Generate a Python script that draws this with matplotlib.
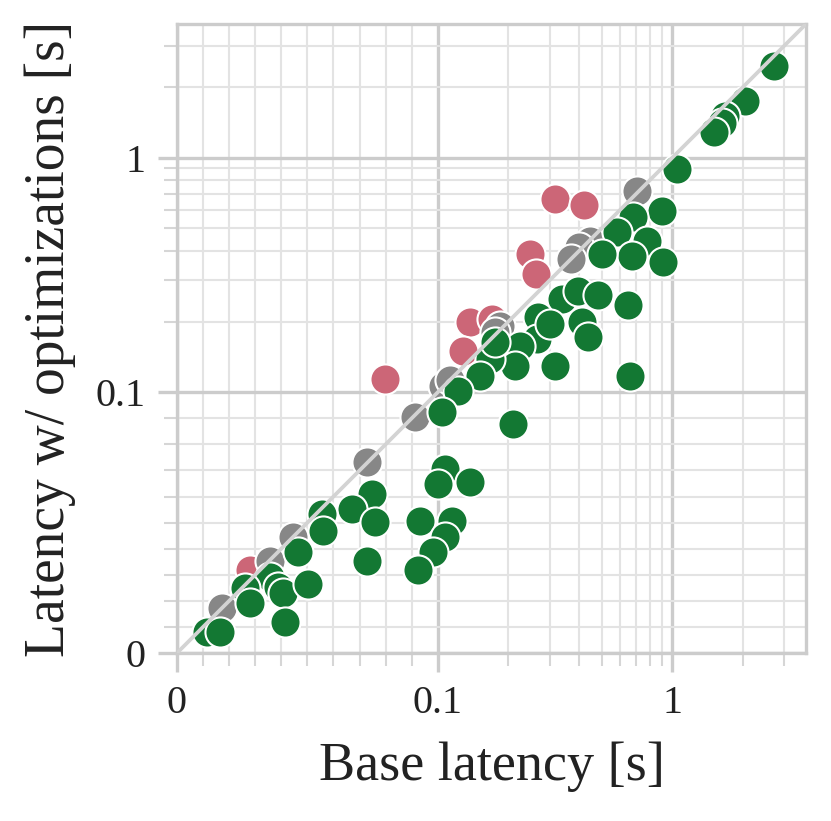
import numpy as np
import matplotlib
matplotlib.use("Agg")
import matplotlib.pyplot as plt
from matplotlib.ticker import FixedLocator, FixedFormatter

plt.rcParams['font.family'] = ['Liberation Serif', 'DejaVu Serif']

# ---- data (seconds) ----
green_base = [2.70, 2.03, 1.67, 1.62, 1.51, 1.05, 0.90, 0.68, 0.58, 0.78, 0.67, 0.91, 0.50,
              0.34, 0.395, 0.48, 0.645, 0.41, 0.436, 0.267, 0.265, 0.224, 0.316, 0.213,
              0.167, 0.151, 0.175, 0.66, 0.30, 0.122, 0.104, 0.209, 0.107, 0.100, 0.137,
              0.0748, 0.0672, 0.0760, 0.0932, 0.115, 0.107, 0.0982, 0.0925, 0.0729,
              0.0465, 0.0557, 0.0561, 0.0357, 0.0388, 0.0407, 0.0503, 0.0262, 0.0281,
              0.0415, 0.0116, 0.0166]
green_opt = [2.45, 1.74, 1.50, 1.41, 1.29, 0.89, 0.59, 0.56, 0.48, 0.44, 0.38, 0.36, 0.39,
             0.25, 0.27, 0.26, 0.235, 0.20, 0.172, 0.209, 0.169, 0.157, 0.129, 0.129,
             0.139, 0.117, 0.164, 0.117, 0.195, 0.101, 0.0924, 0.0878, 0.0705, 0.0647, 0.0655,
             0.0609, 0.0551, 0.0501, 0.0505, 0.0505, 0.0443, 0.0386, 0.0320, 0.0351,
             0.0386, 0.0532, 0.0467, 0.0290, 0.0255, 0.0232, 0.0263, 0.0251, 0.0193,
             0.0120, 0.0082, 0.0082]

red_base = [0.316, 0.42, 0.247, 0.262, 0.137, 0.128, 0.170, 0.0798, 0.0281]
red_opt = [0.665, 0.63, 0.39, 0.32, 0.199, 0.150, 0.205, 0.114, 0.0320]

gray_base = [0.71, 0.445, 0.40, 0.37, 0.184, 0.175, 0.105, 0.113, 0.0913, 0.0729, 0.0446,
             0.0357, 0.0174]
gray_opt = [0.72, 0.44, 0.415, 0.37, 0.191, 0.181, 0.106, 0.113, 0.0905, 0.0732, 0.0443,
            0.0351, 0.0174]

major_ticks = [0, 0.1, 1]
major_labels = ["0", "0.1", "1"]
lim_max = 3.71

GREEN = "#137833"
RED = "#CC6677"
GRAY = "#878787"
LIGHT = "#cccccc"

fig = plt.figure(figsize=(8.31, 8.21), dpi=100)
ax = fig.add_axes([177/831, (821-653)/821, (806-177)/831, (653-24)/821])

for axis_scale in (ax.set_xscale, ax.set_yscale):
    axis_scale('symlog', linthresh=0.1, linscale=1)

ax.set_xlim(0, lim_max)
ax.set_ylim(0, lim_max)

minor = list(np.arange(1, 10) * 0.01) + list(np.arange(2, 10) * 0.1) + [2, 3]
for a in (ax.xaxis, ax.yaxis):
    a.set_major_locator(FixedLocator(major_ticks))
    a.set_major_formatter(FixedFormatter(major_labels))
    a.set_minor_locator(FixedLocator(minor))

ax.grid(True, which='major', color=LIGHT, linewidth=2.4, zorder=0)
ax.grid(True, which='minor', color="#e3e3e3", linewidth=1.5, zorder=0)
ax.set_axisbelow(True)

ms = 470
ax.scatter(red_base, red_opt, s=ms, c=RED, edgecolors='white', linewidths=1.5, zorder=3)
ax.scatter(gray_base, gray_opt, s=ms, c=GRAY, edgecolors='white', linewidths=1.5, zorder=3)
ax.scatter(green_base, green_opt, s=ms, c=GREEN, edgecolors='white', linewidths=1.5, zorder=3)

ax.plot([0, lim_max], [0, lim_max], color="#d3d3d3", linewidth=2.7, zorder=5,
        solid_capstyle='butt')

for s in ax.spines.values():
    s.set_color(LIGHT)
    s.set_linewidth(2.4)

ax.tick_params(which='major', length=14, width=2.4, color=LIGHT, labelsize=29,
               labelcolor="#222222", pad=9)
ax.tick_params(which='minor', length=9.5, width=1.5, color="#d6d6d6")

ax.set_xlabel("Base latency [s]", fontsize=39, color="#222222", labelpad=14)
ax.set_ylabel("Latency w/ optimizations [s]", fontsize=40, color="#222222", labelpad=14)

fig.savefig("out.png", dpi=100, facecolor='white')
